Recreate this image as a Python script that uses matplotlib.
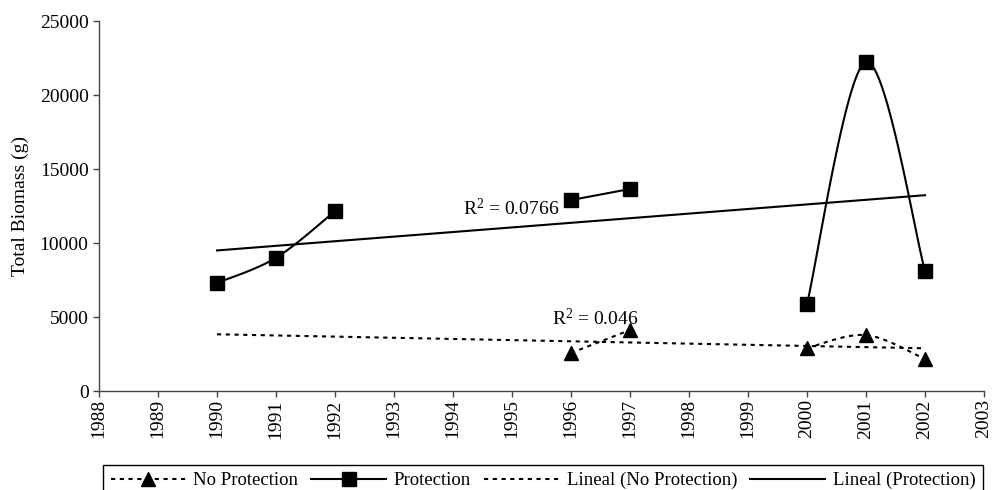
import matplotlib
matplotlib.use("Agg")
import matplotlib.pyplot as plt
import numpy as np

plt.rcParams['font.family'] = ['Liberation Serif', 'DejaVu Serif']
plt.rcParams['mathtext.default'] = 'regular'

# data (NaN = no sample that year)
years = [1990, 1991, 1992, 1993, 1994, 1995, 1996, 1997, 1998, 1999, 2000, 2001, 2002]
protection = [7300, 9000, 12150, np.nan, np.nan, np.nan, 12900, 13650, np.nan, np.nan, 5880, 22230, 8110]
no_protection = [np.nan, np.nan, np.nan, np.nan, np.nan, np.nan, 2570, 4120, np.nan, np.nan, 2900, 3780, 2160]
r2_labels = ['R$^{2}$ = 0.0766', 'R$^{2}$ = 0.046']
xticks = list(range(1988, 2004))
yticks = [0, 5000, 10000, 15000, 20000, 25000]


def segments(x, y):
    """split series at NaN gaps"""
    x = np.asarray(x, float)
    y = np.asarray(y, float)
    out, cur = [], []
    for xi, yi in zip(x, y):
        if np.isnan(yi):
            if cur:
                out.append(cur)
            cur = []
        else:
            cur.append((xi, yi))
    if cur:
        out.append(cur)
    return [np.array(s) for s in out]


def smooth(pts, n=60):
    """Excel-like smoothed line (Catmull-Rom as cubic Bezier)"""
    if len(pts) < 3:
        return pts[:, 0], pts[:, 1]
    p = np.vstack([pts[:1], pts, pts[-1:]])
    t = np.linspace(0, 1, n)[:, None]
    xs, ys = [], []
    for i in range(1, len(p) - 2):
        p0, p1, p2, p3 = p[i - 1], p[i], p[i + 1], p[i + 2]
        c1 = p1 + (p2 - p0) / 6
        c2 = p2 - (p3 - p1) / 6
        b = ((1 - t) ** 3) * p1 + 3 * ((1 - t) ** 2) * t * c1 + 3 * (1 - t) * t ** 2 * c2 + t ** 3 * p2
        xs.append(b[:, 0])
        ys.append(b[:, 1])
    return np.concatenate(xs), np.concatenate(ys)


def trend(x, y):
    x = np.asarray(x, float)
    y = np.asarray(y, float)
    ok = ~np.isnan(y)
    k, b = np.polyfit(x[ok], y[ok], 1)
    xx = np.array([x[0], x[-1]])
    return xx, k * xx + b


fig = plt.figure(figsize=(9.92, 4.9), dpi=100)
ax = fig.add_axes([99 / 992, 1 - 391 / 490, 885 / 992, 370 / 490])

dots = (0, (2, 2.2))
lw = 1.5

# No Protection
for seg in segments(years, no_protection):
    sx, sy = smooth(seg)
    ax.plot(sx, sy, color='black', lw=lw, linestyle=dots)
    ax.plot(seg[:, 0], seg[:, 1], linestyle='none', marker='^', ms=10, color='black')

# Protection
for seg in segments(years, protection):
    sx, sy = smooth(seg)
    ax.plot(sx, sy, color='black', lw=lw)
    ax.plot(seg[:, 0], seg[:, 1], linestyle='none', marker='s', ms=9.5, color='black')

# trend lines
tx, ty = trend(years, no_protection)
ax.plot(tx, ty, color='black', lw=lw, linestyle=dots)
tx, ty = trend(years, protection)
ax.plot(tx, ty, color='black', lw=lw)

ax.text(1994.17, 11890, r2_labels[0], fontsize=14, ha='left', va='baseline')
ax.text(1995.68, 4460, r2_labels[1], fontsize=14, ha='left', va='baseline')

ax.set_xlim(1988, 2003)
ax.set_ylim(0, 25000)
ax.set_xticks(xticks)
ax.set_xticklabels([str(v) for v in xticks], rotation=90, fontsize=14)
ax.set_yticks(yticks)
ax.set_yticklabels([str(v) for v in yticks], fontsize=14)
ax.tick_params(direction='out', length=4, width=1, color='#444444')
ax.tick_params(axis='x', pad=2)
ax.spines['top'].set_visible(False)
ax.spines['right'].set_visible(False)
for s in ('left', 'bottom'):
    ax.spines[s].set_linewidth(1)
    ax.spines[s].set_color('#444444')
ax.set_ylabel('Total Biomass (g)', fontsize=14, labelpad=8)

# legend handles
h1, = ax.plot([], [], color='black', lw=lw, linestyle=dots, marker='^', ms=10)
h2, = ax.plot([], [], color='black', lw=lw, marker='s', ms=9.5)
h3, = ax.plot([], [], color='black', lw=lw, linestyle=dots)
h4, = ax.plot([], [], color='black', lw=lw)
leg = fig.legend([h1, h2, h3, h4],
                 ['No Protection', 'Protection', 'Lineal (No Protection)', 'Lineal (Protection)'],
                 loc='upper left', bbox_to_anchor=(103 / 992, 1 - 465 / 490, 880 / 992, 0.001),
                 mode='expand', ncol=4, fontsize=13.5, handlelength=4, handletextpad=0.4,
                 columnspacing=0.5, borderpad=0.4, borderaxespad=0, fancybox=False,
                 frameon=True, framealpha=1)
leg.get_frame().set_edgecolor('black')
leg.get_frame().set_linewidth(1)

fig.savefig('out.png', dpi=100)
